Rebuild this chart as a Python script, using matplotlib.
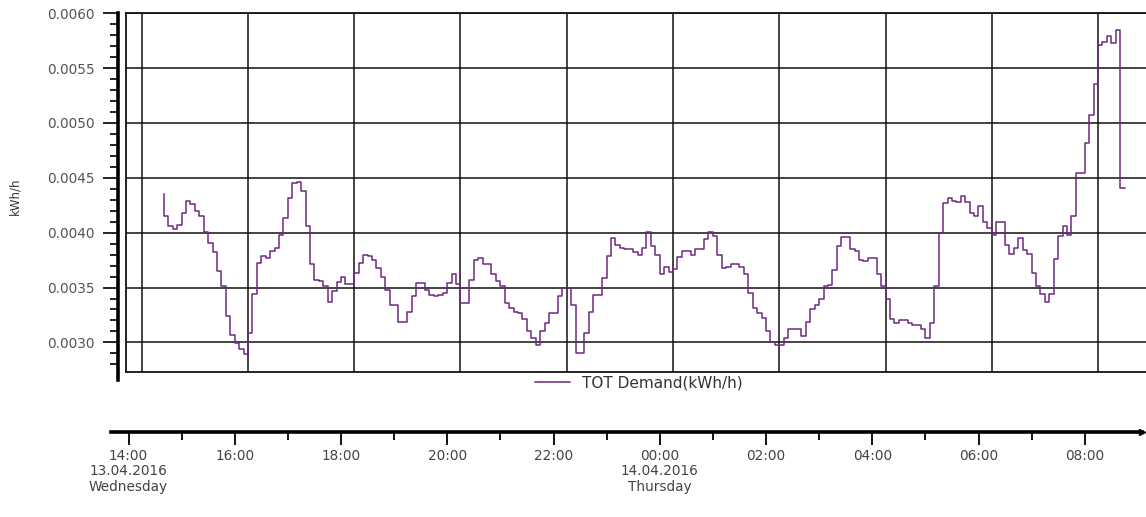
import numpy as np
import pandas as pd
import matplotlib
matplotlib.use("Agg")
import matplotlib.pyplot as plt
import matplotlib.dates as mdates
from matplotlib.ticker import MultipleLocator, FormatStrFormatter

# 5 minute demand readings, 13.04.2016 14:25 -> 14.04.2016 08:30
demand = [
    0.00435,
    0.00415, 0.00406, 0.00403, 0.00407, 0.00418, 0.00429, 0.00426, 0.00420, 0.00415, 0.00401,
    0.00391, 0.00382, 0.00365, 0.00351, 0.00324, 0.00307, 0.00299, 0.00294, 0.00289, 0.00309,
    0.00344, 0.00372, 0.00379, 0.00377, 0.00383, 0.00386, 0.00398, 0.00413, 0.00432, 0.00445,
    0.00446, 0.00438, 0.00406, 0.00371, 0.00357,
    0.00356, 0.00351, 0.00337, 0.00347, 0.00355, 0.00360, 0.00353, 0.00353, 0.00363, 0.00372,
    0.00380, 0.00379, 0.00375, 0.00368, 0.00360, 0.00348, 0.00334, 0.00334, 0.00319, 0.00319,
    0.00328, 0.00342, 0.00354, 0.00354, 0.00348, 0.00343, 0.00342, 0.00343, 0.00345, 0.00354,
    0.00362, 0.00353, 0.00336, 0.00336, 0.00357, 0.00375,
    0.00377, 0.00371, 0.00371, 0.00362, 0.00356, 0.00351, 0.00336, 0.00331, 0.00328, 0.00327,
    0.00321, 0.00310, 0.00304, 0.00298, 0.00310, 0.00318, 0.00327, 0.00327, 0.00342, 0.00350,
    0.00350, 0.00334, 0.00290, 0.00290, 0.00309, 0.00328, 0.00343, 0.00343, 0.00359, 0.00379,
    0.00395, 0.00389, 0.00386, 0.00385, 0.00385, 0.00382,
    0.00380, 0.00386, 0.00401, 0.00388, 0.00380, 0.00362, 0.00369, 0.00364, 0.00367, 0.00378,
    0.00383, 0.00383, 0.00380, 0.00385, 0.00385, 0.00394, 0.00401, 0.00397, 0.00380, 0.00368,
    0.00369, 0.00371, 0.00371, 0.00369, 0.00362, 0.00345, 0.00331, 0.00327, 0.00322, 0.00310,
    0.00300, 0.00298, 0.00298, 0.00304, 0.00312, 0.00312,
    0.00312, 0.00306, 0.00319, 0.00330, 0.00334, 0.00340, 0.00351, 0.00352, 0.00366, 0.00388,
    0.00396, 0.00396, 0.00385, 0.00383, 0.00375, 0.00374, 0.00377, 0.00377, 0.00362, 0.00351,
    0.00340, 0.00321, 0.00318, 0.00320, 0.00320, 0.00318, 0.00316, 0.00316, 0.00312, 0.00304,
    0.00318, 0.00351, 0.00400, 0.00427, 0.00432, 0.00429,
    0.00428, 0.00433, 0.00428, 0.00418, 0.00415, 0.00424, 0.00410, 0.00404, 0.00398, 0.00410,
    0.00410, 0.00389, 0.00381, 0.00386, 0.00395, 0.00384, 0.00381, 0.00363, 0.00351, 0.00344,
    0.00337, 0.00344, 0.00376, 0.00397, 0.00406, 0.00398, 0.00415, 0.00454, 0.00454, 0.00482,
    0.00507, 0.00536, 0.00571, 0.00574, 0.00579, 0.00573, 0.00585,
    0.00441,
]
times = pd.date_range("2016-04-13 14:25", periods=len(demand), freq="5min")

series_name = "TOT Demand(kWh/h)"
y_label = "kWh/h"
tick_times = pd.date_range("2016-04-13 14:00", "2016-04-14 08:00", freq="2h")
minor_times = pd.date_range("2016-04-13 15:00", "2016-04-14 07:00", freq="2h")
tick_labels = ["14:00\n13.04.2016\nWednesday", "16:00", "18:00", "20:00", "22:00",
               "00:00\n14.04.2016\nThursday", "02:00", "04:00", "06:00", "08:00"]

W, H = 1146, 517
PX_H = 53.13  # pixels per hour
base = pd.Timestamp("2016-04-13 14:00")

fig = plt.figure(figsize=(W / 100, H / 100), dpi=100)
fig.patch.set_facecolor("white")
plt.rcParams["font.family"] = ["DejaVu Sans"]


def rect(x0, y0, x1, y1):
    # pixel box (top-left origin) -> figure fraction
    return [x0 / W, (H - y1) / H, (x1 - x0) / W, (y1 - y0) / H]


# main chart box
ax = fig.add_axes(rect(126, 13.3, 1200, 372))
ax.step(times, demand, where="pre", color="#6e2a80", lw=1.1, label=series_name)
ax.set_xlim(base - pd.Timedelta(hours=15.7 / PX_H), base + pd.Timedelta(hours=(1200 - 141.7) / PX_H))
ax.set_ylim(0.00273, 0.0060)

ax.xaxis.set_major_locator(mdates.HourLocator(byhour=range(0, 24, 2)))
ax.tick_params(axis="x", length=0, labelbottom=False)
ax.yaxis.set_major_locator(MultipleLocator(0.0005))
ax.yaxis.set_minor_locator(MultipleLocator(0.0001))
ax.yaxis.set_major_formatter(FormatStrFormatter("%.4f"))
ax.grid(True, which="major", color="#111111", lw=1.1)
ax.set_axisbelow(True)

for side in ("top", "bottom"):
    ax.spines[side].set_color("#111111")
    ax.spines[side].set_linewidth(1.3)
ax.spines["right"].set_visible(False)
ax.spines["left"].set_position(("outward", 5.8))
ax.spines["left"].set_linewidth(2.6)
ax.spines["left"].set_bounds(0.00266, 0.0060)
ax.plot([0, 0], [0, 1], transform=ax.transAxes, color="#111111", lw=1.3, clip_on=False)

ax.tick_params(axis="y", which="major", direction="out", length=11, width=1.2,
               pad=5.5, labelsize=9.8, labelcolor="#555555")
ax.tick_params(axis="y", which="minor", direction="out", length=6, width=1.2)

fig.text(15 / W, 1 - 196 / H, y_label, rotation=90, ha="center", va="center",
         fontsize=8.5, color="#333333")

ax.legend(loc="center left", bbox_to_anchor=(535 / W, 1 - 383 / H),
          bbox_transform=fig.transFigure, frameon=False, borderpad=0,
          borderaxespad=0, handlelength=2.3, handletextpad=0.75,
          prop={"size": 11}, labelcolor="#333333")

# separate time axis underneath
tax = fig.add_axes(rect(111, 431, 1142, 432))
tax.set_xlim(base - pd.Timedelta(hours=17.5 / PX_H), base + pd.Timedelta(hours=(1142 - 128.5) / PX_H))
tax.patch.set_visible(False)
for side in ("top", "left", "right"):
    tax.spines[side].set_visible(False)
tax.spines["bottom"].set_linewidth(2.6)
tax.set_yticks([])
tax.set_xticks(tick_times)
tax.set_xticklabels(tick_labels)
tax.set_xticks(minor_times, minor=True)
tax.tick_params(axis="x", which="major", direction="out", length=9, width=1.3,
                pad=3, labelsize=9.8, labelcolor="#444444")
tax.tick_params(axis="x", which="minor", direction="out", length=5.5, width=1.3)
for lab in tax.get_xticklabels():
    lab.set_linespacing(1.15)
tax.plot(1, 0, marker=">", ms=5, color="black", transform=tax.transAxes, clip_on=False)

fig.savefig("out.png", dpi=100, facecolor="white")
